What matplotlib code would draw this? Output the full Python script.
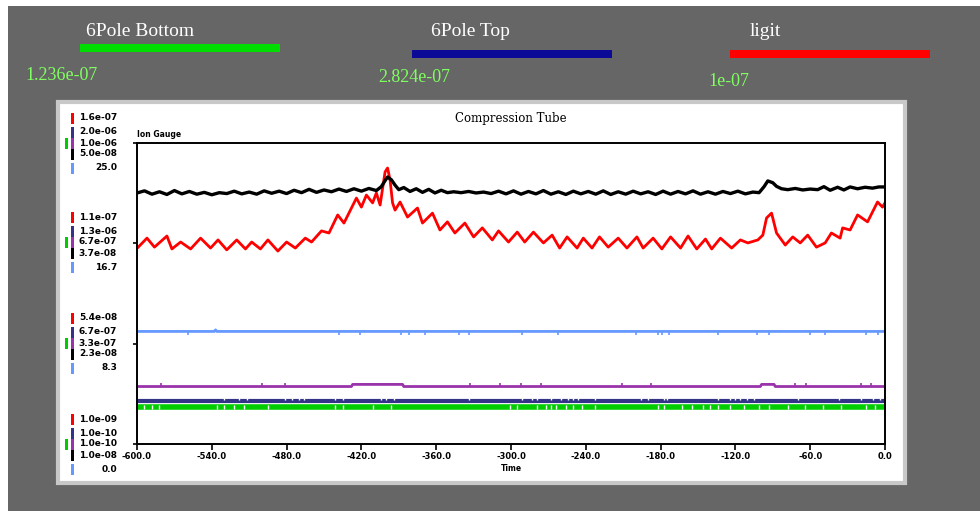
import matplotlib.pyplot as plt
from matplotlib.patches import Rectangle

# time axis (s), values in % of full scale of each channel
red_t = [-599, -592, -586, -576, -572, -565, -557, -549, -541, -535, -528, -520, -513, -508,
         -501, -495, -487, -480, -473, -465, -460, -452, -446, -439, -434, -424, -420, -416,
         -411, -408, -405, -401, -399, -397, -395, -393, -389, -383, -375, -371, -363, -357,
         -351, -345, -337, -330, -323, -315, -310, -302, -295, -289, -282, -274, -267, -261,
         -255, -247, -242, -235, -229, -222, -214, -207, -199, -194, -186, -179, -172, -164,
         -158, -151, -144, -139, -132, -123, -116, -110, -102, -98, -95, -91, -87, -80, -74,
         -68, -62, -55, -48, -43, -36, -34, -28, -22, -14, -6, -2, 0]
red_v = [65.4, 68.4, 65.4, 69.1, 64.8, 67.1, 64.8, 68.4, 65.1, 67.8, 64.5, 67.8, 64.8, 67.1,
         64.8, 67.8, 64.1, 67.1, 65.1, 68.4, 67.1, 70.8, 70.1, 76.1, 73.4, 81.7, 78.7, 82.7,
         80.1, 83.4, 79.4, 90.4, 91.7, 87.7, 80.1, 77.7, 80.4, 75.4, 78.4, 73.4, 76.7, 71.1,
         73.8, 70.1, 73.4, 68.8, 71.8, 67.8, 70.8, 67.1, 70.4, 67.1, 70.4, 66.8, 69.4, 65.1,
         68.8, 65.1, 68.4, 65.1, 68.8, 65.4, 68.4, 65.1, 68.8, 65.1, 68.4, 64.8, 68.8, 65.1,
         69.1, 64.8, 68.1, 64.8, 68.4, 65.1, 67.8, 66.8, 67.8, 69.4, 75.1, 76.7, 70.1, 66.1, 68.8,
         66.8, 69.4, 65.4, 66.8, 70.1, 68.4, 71.8, 71.1, 76.1, 73.8, 80.4, 78.7, 80.1]

black_t = [-600, -594, -588, -582, -576, -570, -564, -558, -552, -546, -540, -534, -528, -522,
           -516, -510, -504, -498, -492, -486, -480, -474, -468, -462, -456, -450, -444, -438,
           -432, -426, -420, -414, -408, -404, -401, -399, -396, -393, -390, -386, -381, -376,
           -371, -366, -361, -356, -351, -346, -340, -334, -328, -322, -316, -310, -304, -298,
           -292, -286, -280, -274, -268, -262, -256, -250, -244, -238, -232, -226, -220, -214,
           -208, -202, -196, -190, -184, -178, -172, -166, -160, -154, -148, -142, -136, -130,
           -124, -118, -112, -106, -101, -97, -94, -90, -87, -83, -78, -72, -66, -60, -54, -49,
           -44, -38, -33, -28, -22, -16, -10, -5, 0]
black_v = [83.4, 84.1, 83.0, 83.8, 82.9, 84.2, 83.1, 83.9, 83.0, 83.6, 82.8, 83.5, 83.2, 84.0,
           83.1, 83.7, 83.0, 84.1, 83.3, 84.0, 83.2, 84.3, 83.5, 84.6, 83.6, 84.4, 83.8, 84.7,
           83.9, 84.8, 84.0, 84.9, 84.2, 85.5, 87.5, 88.7, 87.8, 86.0, 84.5, 85.2, 83.9, 84.8,
           83.6, 84.6, 83.4, 84.3, 83.5, 83.8, 83.5, 83.9, 83.4, 83.7, 83.2, 84.0, 83.1, 84.1,
           83.0, 83.9, 83.1, 84.2, 83.0, 83.8, 82.9, 84.0, 83.1, 83.9, 83.0, 84.1, 82.9, 83.8,
           83.0, 84.0, 83.1, 83.8, 82.9, 84.0, 83.0, 83.9, 83.1, 84.1, 83.0, 83.8, 83.0, 83.9,
           83.2, 84.0, 83.1, 83.7, 83.5, 85.5, 87.4, 86.8, 85.6, 84.8, 84.5, 84.9, 84.4, 84.7,
           84.5, 85.5, 84.3, 85.3, 84.4, 85.4, 84.8, 85.3, 85.0, 85.4, 85.4]

blue_t = [-600, -538, -537, -536, 0]
blue_v = [37.4, 37.4, 37.9, 37.4, 37.4]
blue_dips = [-559, -438, -421, -388, -382, -369, -342, -334, -291, -262, -200, -182, -179,
             -173, -134, -103, -93, -60, -48, -15, -6]

purple_t = [-600, -428, -427, -387, -386, -100, -99, -89, -88, 0]
purple_v = [19.1, 19.1, 19.8, 19.8, 19.1, 19.1, 19.8, 19.8, 19.1, 19.1]
purple_ticks = [-581, -500, -481, -333, -309, -292, -276, -211, -188, -72, -63, -19, -11]

navy_t = [-600, 0]
navy_v = [14.3, 14.3]
navy_gaps = [-530, -518, -512, -481, -476, -470, -466, -441, -435, -404, -400, -394, -334,
             -291, -283, -279, -268, -260, -254, -250, -246, -233, -196, -190, -177, -175,
             -134, -124, -120, -116, -111, -105, -70, -37, -19, -10, -4]
green_t = [-600, 0]
green_v = [12.3, 12.3]
green_gaps = [-594, -588, -582, -536, -530, -522, -514, -495, -441, -435, -411, -396, -301,
              -295, -279, -272, -268, -264, -256, -250, -243, -233, -182, -177, -163, -155,
              -146, -140, -134, -124, -113, -101, -93, -78, -64, -50, -35, -15, -8]

xticks = [-600, -540, -480, -420, -360, -300, -240, -180, -120, -60, 0]

# scale labels per level (bottom -> top), order: red, navy, purple, black, blue
scale_labels = [
    ["1.0e-09", "1.0e-10", "1.0e-10", "1.0e-08", "0.0"],
    ["5.4e-08", "6.7e-07", "3.3e-07", "2.3e-08", "8.3"],
    ["1.1e-07", "1.3e-06", "6.7e-07", "3.7e-08", "16.7"],
    ["1.6e-07", "2.0e-06", "1.0e-06", "5.0e-08", "25.0"],
]

legend_names = ["6Pole Bottom", "6Pole Top", "ligit"]
legend_values = ["1.236e-07", "2.824e-07", "1e-07"]

RED = '#ff0000'
NAVY = '#333388'
PURPLE = '#9933aa'
BLUE = '#6699ff'
GREEN = '#00cc00'

W, H = 980, 511
fig = plt.figure(figsize=(9.8, 5.11), dpi=100, facecolor='white')


def px_rect(x, y, w, h, **kw):
    # rectangle given in image pixels (top-left origin)
    r = Rectangle((x / W, 1 - (y + h) / H), w / W, h / H, transform=fig.transFigure, **kw)
    fig.add_artist(r)
    return r


# gray background and white panel
px_rect(8, 6, 972, 505, facecolor='#666666', edgecolor='none', zorder=0)
px_rect(58, 102, 847, 381, facecolor='white', edgecolor='#c8c8c8', linewidth=3, zorder=1)

# top legend
leg_x = [140, 470, 765]
bar_x = [80, 412, 730]
bar_y = [44, 50, 50]
bar_c = ['#00dd00', '#0a0a96', '#ff0000']
val_x = [25, 378, 708]
val_y = [75, 77, 81]
for i in range(3):
    fig.text(leg_x[i] / W, 1 - 31 / H, legend_names[i], ha='center', va='center',
             color='white', fontsize=14, family='Liberation Serif')
    px_rect(bar_x[i], bar_y[i], 200, 8, facecolor=bar_c[i], edgecolor='none', zorder=2)
    fig.text(val_x[i] / W, 1 - val_y[i] / H, legend_values[i], ha='left', va='center',
             color='#80ff60', fontsize=13, family='Liberation Serif')

# main axes
ax = fig.add_axes([137 / W, 1 - 444 / H, 748 / W, 301 / H], zorder=3)
ax.plot(green_t, green_v, color=GREEN, lw=4)
ax.plot(green_gaps, [12.3] * len(green_gaps), ls='none', marker='|', ms=2.5, mew=1,
        color='white')
ax.plot(navy_t, navy_v, color=NAVY, lw=3)
ax.plot(navy_gaps, [14.9] * len(navy_gaps), ls='none', marker='|', ms=2, mew=1,
        color='white')
ax.plot(purple_t, purple_v, color=PURPLE, lw=2)
ax.plot(purple_ticks, [19.6] * len(purple_ticks), ls='none', marker='|', ms=3,
        mew=1.2, color=PURPLE)
ax.plot(blue_t, blue_v, color=BLUE, lw=2)
ax.plot(blue_dips, [36.9] * len(blue_dips), ls='none', marker='|', ms=3, mew=1.2, color=BLUE)
ax.plot(red_t, red_v, color=RED, lw=2)
ax.plot(black_t, black_v, color='black', lw=2.4)

ax.set_xlim(-600, 0)
ax.set_ylim(0, 100)
ax.set_xticks(xticks)
ax.set_xticklabels(['%.1f' % v for v in xticks], fontsize=6, fontweight='bold')
ax.set_yticks([0, 100 / 3, 200 / 3, 100])
ax.set_yticklabels([])
ax.tick_params(axis='x', length=4, width=1.2, pad=2)
ax.tick_params(axis='y', length=3, width=1.2)
for s in ax.spines.values():
    s.set_linewidth(1.4)
ax.set_title('Compression Tube', fontsize=8.5, family='DejaVu Serif', pad=15)
ax.text(0, 1.012, 'Ion Gauge', transform=ax.transAxes, fontsize=5.5, fontweight='bold',
        ha='left', va='bottom')
ax.set_xlabel('Time', fontsize=5.5, fontweight='bold', labelpad=2)

# per-channel scale labels on the left
row_off = [-25, -11, 0, 11, 25]
row_c = [RED, NAVY, PURPLE, 'black', BLUE]
levels = [444, 343, 242, 143]
for lv, labels in zip(levels, scale_labels):
    for k in range(5):
        y = lv + row_off[k]
        px_rect(71, y - 5, 3, 11, facecolor=row_c[k], edgecolor='none', zorder=4)
        if k == 2:
            px_rect(65, y - 5, 3, 11, facecolor=GREEN, edgecolor='none', zorder=4)
        fig.text(117 / W, 1 - y / H, labels[k], ha='right', va='center', fontsize=6.5,
                 fontweight='bold', color='black', zorder=4)

fig.savefig('out.png', dpi=100, facecolor=fig.get_facecolor())
